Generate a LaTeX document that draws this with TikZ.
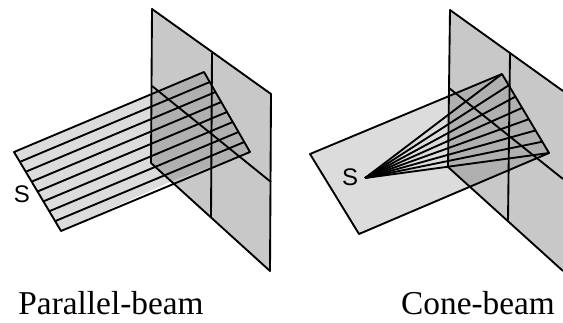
\documentclass[tikz,border=0pt]{standalone}
\usepackage{fontspec}
\usetikzlibrary{calc}
\setmainfont{Liberation Serif}
\setsansfont{Liberation Sans}
\definecolor{plate}{HTML}{C8C8C8}
\definecolor{sheet}{HTML}{DCDCDC}
\definecolor{overlap}{HTML}{B0B0B0}

\begin{document}
\begin{tikzpicture}[
  x=.75pt, y=-.75pt,
  outline/.style={draw=black, line width=1.4pt, line join=round},
  ray/.style={draw=black, line width=1.4pt},
  source/.style={font=\sffamily\fontsize{18}{18}\selectfont, inner sep=0pt},
  caption/.style={font=\fontsize{25}{25}\selectfont, inner sep=0pt}
]
\useasboundingbox (0,0) rectangle (563,322);

% Parallel-beam: the sheet goes through the detector plate.
\coordinate (pa) at (152,9);
\coordinate (pb) at (271,94);
\coordinate (pc) at (270,271);
\coordinate (pd) at (151,163);
\coordinate (pe) at (152,86);
\coordinate (pf) at (271,182);
\coordinate (pg) at (212,53);
\coordinate (ph) at (211,217);
\coordinate (sa) at (14,152);
\coordinate (sb) at (204,72);
\coordinate (sc) at (250,152);
\coordinate (sd) at (61,231);
\fill[plate] (pa) -- (pb) -- (pc) -- (pd) -- cycle;
\fill[sheet] (sa) -- (sb) -- (152,94) -- (152,163) -- (172,181) -- (sd) -- cycle;
\fill[overlap] (152,94) -- (sb) -- (sc) -- (172,181) -- (152,163) -- cycle;
\foreach \i in {1,...,7}
  \draw[ray] ($(sa)!\i/8!(sd)$) -- ($(sb)!\i/8!(sc)$);
\draw[outline] (sa) -- (sb) -- (sc) -- (sd) -- cycle;
\draw[outline] (pd) -- (pa) -- (pb) -- (pc) -- cycle;
\draw[outline] (pe) -- (pf);
\draw[outline] (pg) -- (ph);
\node[source] (s1) at (22,194) {S};
\node[caption] (cap1) at (111,303) {Parallel-beam};

% Cone-beam: same plate, the rays leave one point.
\coordinate (qa) at (450,10);
\coordinate (qb) at (563,91);
\coordinate (qc) at (563,271);
\coordinate (qd) at (448,167);
\coordinate (qe) at (449,88);
\coordinate (qf) at (563,179);
\coordinate (qg) at (510,53);
\coordinate (qh) at (508,220);
\coordinate (ta) at (310,154);
\coordinate (tb) at (502,74);
\coordinate (tc) at (549,153);
\coordinate (td) at (359,234);
\coordinate (src) at (365,178);
\fill[plate] (qa) -- (qb) -- (qc) -- (qd) -- cycle;
\fill[sheet] (ta) -- (tb) -- (449,97) -- (448,167) -- (471,187) -- (td) -- cycle;
\fill[overlap] (449,97) -- (tb) -- (tc) -- (471,187) -- (448,167) -- cycle;
\foreach \i in {0,...,7}
  \draw[ray] (src) -- ($(tb)!\i/7!(tc)$);
\draw[outline] (ta) -- (tb) -- (tc) -- (td) -- cycle;
\draw[outline] (qd) -- (qa) -- (qb) (qd) -- (qc);
\draw[outline] (qe) -- (qf);
\draw[outline] (qg) -- (qh);
\node[source] (s2) at (350,177) {S};
\node[caption] (cap2) at (478,303) {Cone-beam};
\end{tikzpicture}
\end{document}
